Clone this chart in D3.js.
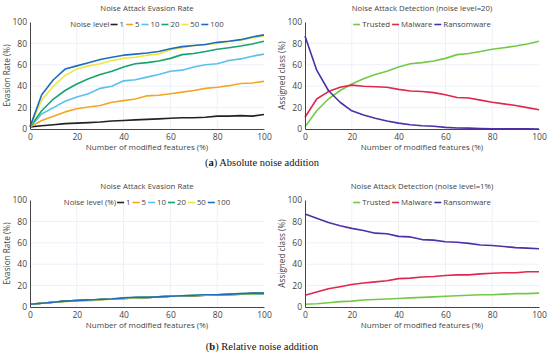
<!DOCTYPE html>
<html>
<head>
<meta charset="utf-8">
<script src="https://d3js.org/d3.v7.min.js"></script>
<style>
  body { margin: 0; background: #fff; }
  svg text { font-family: "Open Sans", sans-serif; fill: #444; }
</style>
</head>
<body>
<svg id="chart" width="550" height="356"></svg>
<script>
// x positions: % of modified features
var featurePct = [0, 5, 10, 15, 20, 25, 30, 35, 40, 45, 50, 55, 60, 65, 70, 75, 80, 85, 90, 95, 100];

// (a) absolute noise, evasion rate per noise level
var noiseLevels = ["1", "5", "10", "20", "50", "100"];
var absEvasion1 = [2, 3, 4, 5, 5.5, 6, 6.5, 7.5, 8, 8.5, 9, 9.5, 10, 10.5, 10.5, 11, 12, 12, 12.5, 12, 13.5];
var absEvasion5 = [2, 8, 12, 16, 19, 20.5, 22, 25, 26.5, 28, 31, 31.5, 33, 34.5, 36, 38, 39, 40.5, 42.5, 43, 44.5];
var absEvasion10 = [2, 14, 20, 26, 30, 33, 38, 40, 45, 46, 48.5, 51, 54, 55, 58, 60, 61, 64, 65.5, 68, 70];
var absEvasion20 = [2, 17, 28, 36, 42, 47, 51, 54, 58, 61, 62, 63.5, 66, 69.5, 70.5, 72.5, 74.5, 76, 77.5, 79.5, 82];
var absEvasion50 = [2, 27, 40, 50, 56, 59, 61, 64, 66, 67, 69, 70, 74, 76, 78, 79, 80, 82, 83, 85, 87];
var absEvasion100 = [2, 32, 46, 56, 59, 62, 65, 67, 69, 70, 71, 72.5, 75, 77, 78, 79, 81, 82, 83.5, 86, 88];

// (a) detection at noise level 20
var classNames = ["Trusted", "Malware", "Ransomware"];
var absTrusted = [2, 17, 28, 36, 42, 47, 51, 54, 58, 61, 62, 63.5, 66, 69.5, 70.5, 72.5, 74.5, 76, 77.5, 79.5, 82];
var absMalware = [11, 28, 35, 39, 41, 40, 39.5, 39, 37, 35.5, 35, 34, 32, 29.5, 29, 27, 25, 23.5, 22, 20, 18];
var absRansom = [87, 55, 36, 25, 17, 13, 10, 7.5, 5.5, 4, 3, 2.5, 1.5, 1, 0.8, 0.5, 0.3, 0.2, 0.1, 0.1, 0];

// (b) relative noise, evasion rate per noise level
var relEvasion1 = [2.5, 3.5, 4.5, 5.5, 6, 6.5, 7, 7.5, 8, 8.5, 9, 9.5, 10, 10, 10.5, 11, 11, 11.5, 12, 12.5, 13];
var relEvasion5 = [2.5, 3.5, 4.5, 5.5, 5.5, 6, 7, 7.5, 8, 8.5, 9, 9.5, 10, 10.5, 10.5, 11, 11.5, 11.5, 12, 12.5, 13];
var relEvasion10 = [2.5, 3.5, 4.5, 5.5, 6, 6.5, 7, 8, 8, 9, 9, 9.5, 10, 10.5, 11, 11, 11, 11.5, 12, 12.5, 12.5];
var relEvasion20 = [2.5, 3.5, 4.5, 5.5, 6, 6.5, 7, 7.5, 8, 8.5, 9, 9.5, 10, 10.5, 10.5, 11, 11.5, 12, 12, 12.5, 12.5];
var relEvasion50 = [2.5, 3.5, 4.5, 5, 5.5, 5.5, 6.5, 7.5, 8, 8.5, 9, 9.5, 10, 10.5, 11, 11, 11.5, 12, 12.5, 12.5, 13];
var relEvasion100 = [2.5, 3.5, 4.5, 5.5, 6, 6.5, 7, 7.5, 8.5, 9, 9, 9.5, 10, 10.5, 11, 11.5, 11.5, 12, 12.5, 13, 13];

// (b) detection at noise level 1%
var relTrusted = [2.5, 3, 4, 5, 5.5, 6.5, 7, 7.5, 8, 8.5, 9, 9.5, 10, 10.5, 11, 11.5, 11.5, 12, 12.5, 12.5, 13];
var relMalware = [11, 14, 17, 19, 21, 22.5, 23.5, 24.5, 26.5, 27, 28, 28.5, 29.5, 30, 30, 31, 31.5, 32, 32, 33, 33];
var relRansom = [87, 83, 79, 76, 73.5, 71.5, 69, 68.5, 66, 65.5, 63, 62.5, 61, 60.5, 59.5, 58, 57.5, 56.5, 55.5, 55, 54.5];

var xTicks = [0, 20, 40, 60, 80, 100];
var yTicks = [0, 20, 40, 60, 80, 100];

var noiseColors = ["#222222", "#f5a524", "#5bbfee", "#17a36e", "#f2e53d", "#1c6cc0"];
var classColors = ["#74c944", "#e2264d", "#4f2fa6"];

var svg = d3.select("#chart");

function drawPanel(opts) {
    var x = d3.scaleLinear().domain([0, 100]).range([opts.left, opts.right]);
    var y = d3.scaleLinear().domain([0, 100]).range([opts.bottom, opts.top]);
    var g = svg.append("g");

    // grid
    g.selectAll(".vgrid").data(xTicks.slice(1, -1)).enter().append("line")
        .attr("x1", function(d) { return x(d); }).attr("x2", function(d) { return x(d); })
        .attr("y1", opts.top).attr("y2", opts.bottom)
        .attr("stroke", "#ebf0f8").attr("stroke-width", 1);
    g.selectAll(".hgrid").data(yTicks.slice(1, -1)).enter().append("line")
        .attr("x1", opts.left).attr("x2", opts.right)
        .attr("y1", function(d) { return y(d); }).attr("y2", function(d) { return y(d); })
        .attr("stroke", "#ebf0f8").attr("stroke-width", 1);

    // lines
    var line = d3.line()
        .x(function(d, i) { return x(featurePct[i]); })
        .y(function(d) { return y(d); });
    opts.series.forEach(function(s, i) {
        g.append("path")
            .attr("d", line(s))
            .attr("fill", "none")
            .attr("stroke", opts.colors[i])
            .attr("stroke-width", 1.6)
            .attr("stroke-linejoin", "round");
    });

    // axes
    var xAxis = g.append("g")
        .attr("transform", "translate(0," + opts.bottom + ")")
        .call(d3.axisBottom(x).tickValues(xTicks).tickSize(0).tickPadding(5));
    var yAxis = g.append("g")
        .attr("transform", "translate(" + opts.left + ",0)")
        .call(d3.axisLeft(y).tickValues(yTicks).tickSize(0).tickPadding(3));
    [xAxis, yAxis].forEach(function(a) {
        a.select(".domain").attr("stroke", "#444").attr("stroke-width", 1);
        a.selectAll("text").style("font-size", "8.5px").attr("fill", "#444");
    });

    // titles
    var cx = (opts.left + opts.right) / 2;
    g.append("text").attr("x", cx).attr("y", opts.top - 11)
        .attr("text-anchor", "middle").style("font-size", "7.8px").text(opts.title);
    g.append("text").attr("x", cx).attr("y", opts.bottom + 21)
        .attr("text-anchor", "middle").style("font-size", "8px").text("Number of modified features (%)");
    g.append("text")
        .attr("transform", "translate(" + (opts.left - 20) + "," + ((opts.top + opts.bottom) / 2) + ") rotate(-90)")
        .attr("text-anchor", "middle").style("font-size", "8.2px").text(opts.yLabel);

    // horizontal legend, centred over the plot
    var leg = g.append("g");
    var lx = 0, ly = opts.top + 5;
    if (opts.legendTitle) {
        var t = leg.append("text").attr("x", lx).attr("y", ly).style("font-size", "7.8px").text(opts.legendTitle);
        lx += t.node().getComputedTextLength() + 1;
    }
    opts.names.forEach(function(n, i) {
        leg.append("line").attr("x1", lx).attr("x2", lx + 7)
            .attr("y1", ly - 2.5).attr("y2", ly - 2.5)
            .attr("stroke", opts.colors[i]).attr("stroke-width", 1.6);
        lx += 9;
        var tt = leg.append("text").attr("x", lx).attr("y", ly).style("font-size", "7.8px").text(n);
        lx += tt.node().getComputedTextLength() + 2;
    });
    leg.attr("transform", "translate(" + (cx - (lx - 2) / 2) + ",0)");
}

drawPanel({
    left: 30, right: 264, top: 22, bottom: 129,
    title: "Noise Attack Evasion Rate", yLabel: "Evasion Rate (%)",
    legendTitle: "Noise level", names: noiseLevels, colors: noiseColors,
    series: [absEvasion1, absEvasion5, absEvasion10, absEvasion20, absEvasion50, absEvasion100]
});
drawPanel({
    left: 305, right: 539, top: 22, bottom: 129,
    title: "Noise Attack Detection (noise level=20)", yLabel: "Assigned class (%)",
    legendTitle: null, names: classNames, colors: classColors,
    series: [absTrusted, absMalware, absRansom]
});
drawPanel({
    left: 30, right: 264, top: 200, bottom: 307,
    title: "Noise Attack Evasion Rate", yLabel: "Evasion Rate (%)",
    legendTitle: "Noise level (%)", names: noiseLevels, colors: noiseColors,
    series: [relEvasion1, relEvasion5, relEvasion10, relEvasion20, relEvasion50, relEvasion100]
});
drawPanel({
    left: 305, right: 539, top: 200, bottom: 307,
    title: "Noise Attack Detection (noise level=1%)", yLabel: "Assigned class (%)",
    legendTitle: null, names: classNames, colors: classColors,
    series: [relTrusted, relMalware, relRansom]
});

// captions
function caption(letter, text, yPos) {
    var c = svg.append("text").attr("x", 262).attr("y", yPos)
        .attr("text-anchor", "middle")
        .style("font-family", "'Liberation Serif', serif").style("font-size", "10.5px").style("fill", "#111");
    c.append("tspan").text("(");
    c.append("tspan").style("font-weight", "bold").text(letter);
    c.append("tspan").text(") " + text);
}
caption("a", "Absolute noise addition", 166);
caption("b", "Relative noise addition", 350);
</script>
</body>
</html>
